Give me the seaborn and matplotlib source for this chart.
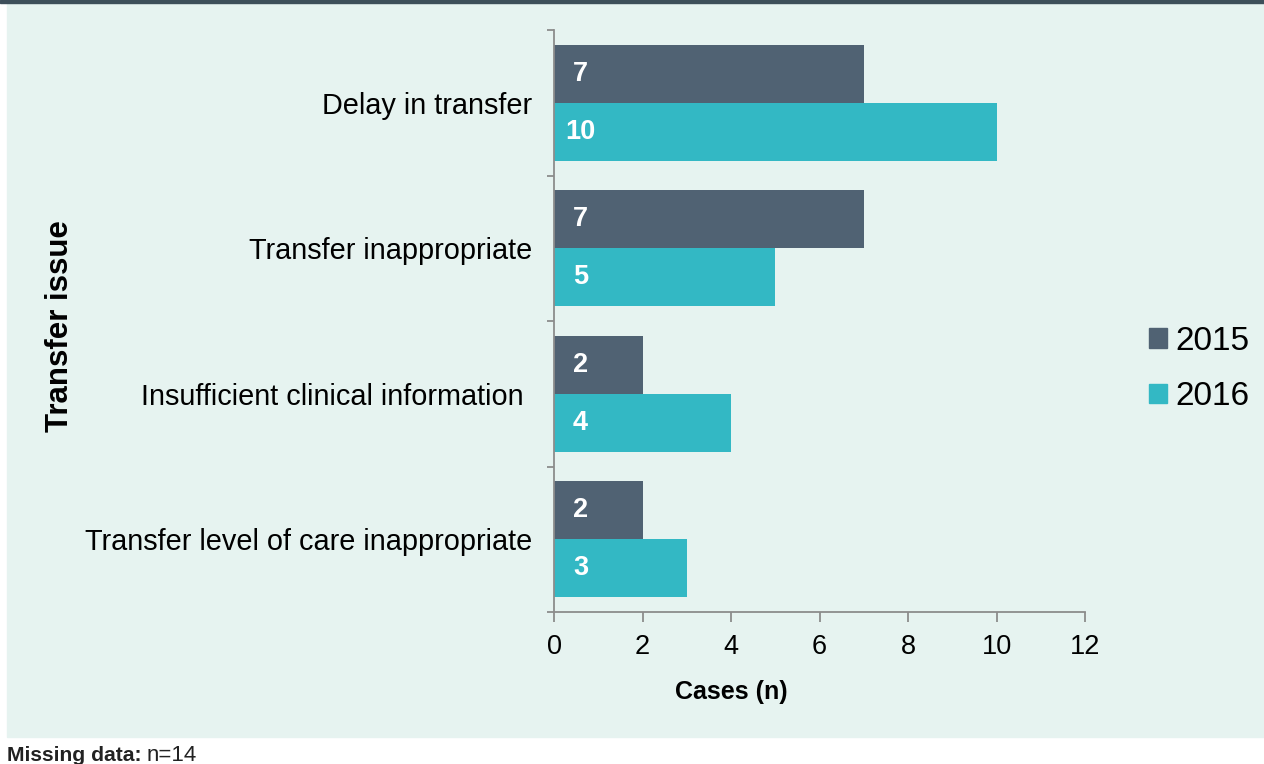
import matplotlib
matplotlib.use("Agg")
import matplotlib.pyplot as plt
import matplotlib.patches as mpatches
import pandas as pd
import seaborn as sns

ISSUES = [
    "Delay in transfer",
    "Transfer inappropriate",
    "Insufficient clinical information ",
    "Transfer level of care inappropriate",
]
YEARS = ["2015", "2016"]
CASES_2015 = [7, 7, 2, 2]
CASES_2016 = [10, 5, 4, 3]
X_TICKS = [0, 2, 4, 6, 8, 10, 12]

COLORS = {"2015": "#506273", "2016": "#33b8c4"}
BG = "#e6f3f0"
GRID_GREY = "#8c8c8c"

df = pd.DataFrame({
    "issue": ISSUES * 2,
    "year": ["2015"] * len(ISSUES) + ["2016"] * len(ISSUES),
    "cases": CASES_2015 + CASES_2016,
})

sns.set_theme(style="white")
plt.rcParams["font.family"] = ["Liberation Sans", "DejaVu Sans"]
plt.rcParams["text.color"] = "black"

fig = plt.figure(figsize=(12.64, 7.64), dpi=100)
fig.patch.set_facecolor("white")
# mint panel with a dark top rule
fig.patches.append(mpatches.Rectangle((7 / 1264, 1 - 737 / 764), 1, 735 / 764,
                                      transform=fig.transFigure, color=BG, zorder=-2))
fig.patches.append(mpatches.Rectangle((0, 1 - 3 / 764), 1, 3 / 764,
                                      transform=fig.transFigure, color="#3d4f5a", zorder=-1))

ax = fig.add_axes([554 / 1264, 1 - 612 / 764, (1085 - 554) / 1264, (612 - 30) / 764])
ax.set_facecolor("none")

sns.barplot(data=df, y="issue", x="cases", hue="year", order=ISSUES, hue_order=YEARS,
            palette=COLORS, width=0.8, saturation=1, orient="h", ax=ax, legend=False,
            linewidth=0)

for container in ax.containers:
    for patch in container:
        cy = patch.get_y() + patch.get_height() / 2
        ax.text(0.6, cy, f"{int(patch.get_width())}", color="white", fontsize=19.5,
                fontweight="bold", ha="center", va="center")

ax.set_xlim(0, 12)
ax.set_ylim(len(ISSUES) - 0.5, -0.5)
ax.set_xticks(X_TICKS)
ax.set_yticks(range(len(ISSUES)))
ax.set_yticks([i - 0.5 for i in range(len(ISSUES) + 1)], minor=True)

for side in ["top", "right"]:
    ax.spines[side].set_visible(False)
for side in ["left", "bottom"]:
    ax.spines[side].set_color(GRID_GREY)
    ax.spines[side].set_linewidth(1.3)

ax.tick_params(axis="x", which="major", length=7, width=1.3, color=GRID_GREY,
               labelsize=19.5, pad=9, direction="out", bottom=True, labelcolor="black")
ax.tick_params(axis="y", which="major", length=0, labelsize=20.8, pad=16, labelcolor="black")
ax.tick_params(axis="y", which="minor", length=5, width=1.3, color=GRID_GREY,
               direction="out", left=True)

ax.set_xlabel("")
ax.set_ylabel("")
fig.text(731 / 1264, 1 - 692 / 764, "Cases (n)", fontsize=18, fontweight="bold",
         ha="center", va="center")
fig.text(60 / 1264, 1 - 326 / 764, "Transfer issue", fontsize=22.5, fontweight="bold",
         rotation=90, ha="center", va="center")

handles = [mpatches.Patch(color=COLORS[y], label=y) for y in YEARS]
fig.legend(handles=handles, loc="center left", bbox_to_anchor=(1149 / 1264, 1 - 369 / 764),
           frameon=False, fontsize=24, handlelength=0.54, handleheight=0.54,
           handletextpad=0.25, labelspacing=0.74, borderpad=0, borderaxespad=0)

fig.text(7 / 1264, 1 - 761 / 764, "Missing data:", fontsize=15.2, fontweight="bold",
         ha="left", va="baseline", color="#222222")
fig.text(147 / 1264, 1 - 761 / 764, "n=14", fontsize=16, ha="left", va="baseline",
         color="#222222")

fig.savefig("out.png", dpi=100, facecolor=fig.get_facecolor())
